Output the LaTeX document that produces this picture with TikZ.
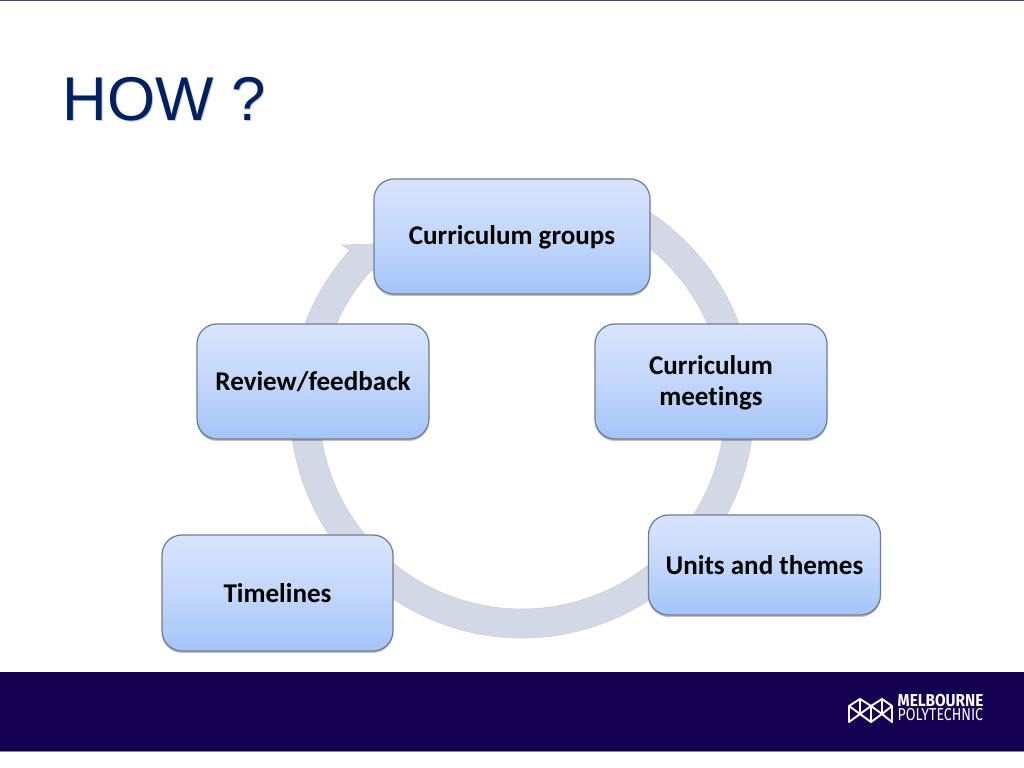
\documentclass[tikz,border=0pt]{standalone}
\usepackage{fontspec}
\setmainfont[Ligatures=NoCommon]{Carlito}
\newfontfamily\titlefont{Liberation Sans}
\newfontfamily\logofont{Fira Sans}
\usetikzlibrary{shadows,positioning}
\definecolor{bandColor}{HTML}{130050}
\definecolor{titleColor}{HTML}{002060}
\definecolor{ringColor}{HTML}{D3D8E6}
\definecolor{edgeColor}{HTML}{6F7C90}
\definecolor{boxTop}{HTML}{D8E4FC}
\definecolor{boxMid}{HTML}{C3D7FB}
\definecolor{boxBottom}{HTML}{A3C4F8}
\tikzset{
  stagebox/.style={rounded corners=0.2cm,draw=edgeColor,line width=0.35pt,
    top color=boxTop,bottom color=boxBottom,middle color=boxMid,
    drop shadow={shadow xshift=0pt,shadow yshift=-0.02cm,opacity=0.25,fill=black},
    align=center,font=\fontsize{7.7}{8.6}\selectfont\bfseries,text=black},
  logoline/.style={draw=white,line width=0.55pt,line join=round},
  titletext/.style={font=\titlefont\fontsize{17.6}{20}\selectfont,anchor=base west,inner sep=0pt},
  logotext/.style={text=white,font=\logofont\fontsize{4.9}{5}\selectfont,anchor=base west,inner sep=0pt}
}
\begin{document}
\begin{tikzpicture}
  \useasboundingbox (0,0) rectangle (10.24,7.68);
  \fill[bandColor!75!white] (0,7.665) rectangle (10.24,7.68);
  \fill[bandColor] (0,0.17) rectangle (10.24,0.96);
  \fill[bandColor!50!white] (0,0.16) rectangle (10.24,0.17);
  % title
  \node[titletext,text=black!20] (howshadow) at (0.63,6.46) {HOW ?};
  \node[titletext,text=titleColor] (how) at (0.62,6.47) {HOW ?};
  % ring with arrow head
  \fill[ringColor,draw=black!18,line width=0.2pt] (6.2,5.723) arc[start angle=65,end angle=-222.2,radius=2.32]
    -- (3.42,5.23) -- (4.05,5.25) -- (3.674,4.935)
    arc[start angle=139.6,end angle=425,radius=2.03] -- cycle;
  % boxes
  \node[stagebox,minimum width=2.76cm,minimum height=1.15cm,text depth=0.6pt] (groups) at (5.12,5.315) {Curriculum groups};
  \node[stagebox,minimum width=2.32cm,minimum height=1.15cm,text depth=0.6pt] (meetings) at (7.11,3.865) {Curriculum\\meetings};
  \node[stagebox,minimum width=2.32cm,minimum height=1.0cm] (units) at (7.645,2.03) {Units and themes};
  \node[stagebox,minimum width=2.31cm,minimum height=1.16cm] (timelines) at (2.775,1.75) {Timelines};
  \node[stagebox,minimum width=2.32cm,minimum height=1.15cm] (review) at (3.13,3.865) {Review/feedback};
  % logo
  \draw[logoline] (8.49,0.46) -- (8.49,0.62) -- (8.60,0.69) -- (8.71,0.62) -- (8.82,0.69)
    -- (8.92,0.62) -- (8.92,0.46) -- (8.82,0.54) -- (8.71,0.46) -- (8.60,0.54) -- cycle;
  \draw[logoline] (8.49,0.62) -- (8.60,0.54) -- (8.71,0.62) -- (8.82,0.54) -- (8.92,0.62);
  \draw[logoline] (8.60,0.69) -- (8.60,0.54) (8.71,0.62) -- (8.71,0.46) (8.82,0.69) -- (8.82,0.54);
  \node[logotext] (melbourne) at (8.97,0.61) {\scalebox{0.89}[1]{\bfseries MELBOURNE}};
  \node[logotext] (poly) at (8.97,0.47) {\scalebox{0.82}[1]{POLYTECHNIC}};
\end{tikzpicture}
\end{document}
